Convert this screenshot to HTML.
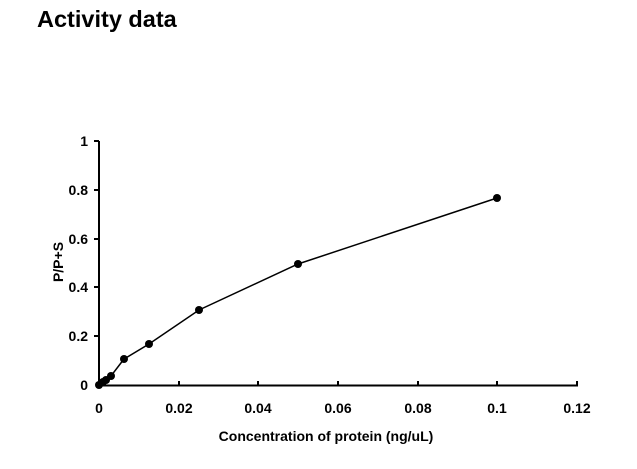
<!DOCTYPE html>
<html><head><meta charset="utf-8"><style>
body{margin:0;background:#fff;width:637px;height:464px;overflow:hidden}
svg text{font-family:"Liberation Sans",Arial,sans-serif;font-weight:bold;fill:#000}
</style></head><body>
<svg width="637" height="464" viewBox="0 0 637 464">
<text x="37" y="27" font-size="23.5">Activity data</text>
<g stroke="#000" stroke-width="2" fill="none">
<line x1="99" y1="141" x2="99" y2="386"/>
<line x1="98" y1="385.5" x2="578" y2="385.5"/>
<line x1="94" y1="141" x2="99" y2="141"/>
<line x1="94" y1="190" x2="99" y2="190"/>
<line x1="94" y1="239" x2="99" y2="239"/>
<line x1="94" y1="287" x2="99" y2="287"/>
<line x1="94" y1="336" x2="99" y2="336"/>
<line x1="179" y1="381" x2="179" y2="385"/>
<line x1="258" y1="381" x2="258" y2="385"/>
<line x1="338" y1="381" x2="338" y2="385"/>
<line x1="418" y1="381" x2="418" y2="385"/>
<line x1="497" y1="381" x2="497" y2="385"/>
<line x1="577" y1="381" x2="577" y2="385"/>
</g>
<polyline fill="none" stroke="#000" stroke-width="1.5" points="99,385 103,382 106,380 111,376 124,359 149,344 199,310 298,264 497,198"/>
<g fill="#000">
<circle cx="99" cy="385" r="4"/><circle cx="103" cy="382" r="4"/><circle cx="106" cy="380" r="4"/><circle cx="111" cy="376" r="4"/>
<circle cx="124" cy="359" r="4"/><circle cx="149" cy="344" r="4"/><circle cx="199" cy="310" r="4"/><circle cx="298" cy="264" r="4"/><circle cx="497" cy="198" r="4"/>
</g>
<g font-size="14" text-anchor="end">
<text x="88" y="146">1</text><text x="88" y="195">0.8</text><text x="88" y="244">0.6</text>
<text x="88" y="292">0.4</text><text x="88" y="341">0.2</text><text x="88" y="390">0</text>
</g>
<g font-size="14" text-anchor="middle">
<text x="99" y="413">0</text><text x="179" y="413">0.02</text><text x="258" y="413">0.04</text>
<text x="338" y="413">0.06</text><text x="418" y="413">0.08</text><text x="497" y="413">0.1</text><text x="577" y="413">0.12</text>
</g>
<text x="326" y="441" font-size="14" text-anchor="middle">Concentration of protein (ng/uL)</text>
<text transform="translate(63,262) rotate(-90)" font-size="14" text-anchor="middle">P/P+S</text>
</svg>
</body></html>
